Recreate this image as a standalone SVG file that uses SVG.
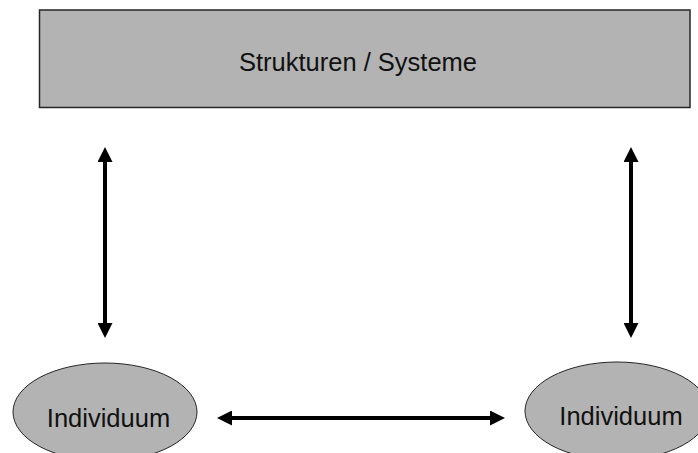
<svg xmlns="http://www.w3.org/2000/svg" width="698" height="453" viewBox="0 0 698 453">
<style>
.box{fill:#b3b3b3;stroke:#262626;stroke-width:1.5}
.ell{fill:#b3b3b3;stroke:#262626;stroke-width:1}
.t{font-family:"Liberation Sans",Arial,sans-serif;font-size:25.5px;fill:#111;text-anchor:middle}
.c{stroke:#000;stroke-width:4;fill:none;marker-start:url(#ah);marker-end:url(#ah)}
</style>
<defs>
<marker id="ah" viewBox="0 0 10 10" refX="0" refY="5" markerWidth="3.75" markerHeight="3.75" orient="auto-start-reverse" markerUnits="strokeWidth">
<path d="M0,0 L10,5 L0,10 z" fill="#000"/>
</marker>
</defs>
<rect width="698" height="453" fill="#fff"/>
<g id="strukturen">
<rect class="box" x="39.5" y="10" width="650.5" height="97.5"/>
<text class="t" x="358" y="71">Strukturen / Systeme</text>
</g>
<g id="individuum-left">
<ellipse class="ell" cx="105" cy="412" rx="92" ry="49"/>
<text class="t" x="108.5" y="427">Individuum</text>
</g>
<g id="individuum-right">
<ellipse class="ell" cx="617" cy="411" rx="92" ry="49"/>
<text class="t" x="621" y="425">Individuum</text>
</g>
<g id="connectors">
<line class="c" x1="105" y1="162" x2="105" y2="323"/>
<line class="c" x1="631" y1="162" x2="631" y2="323"/>
<line class="c" x1="232" y1="418" x2="490" y2="418"/>
</g>
</svg>
